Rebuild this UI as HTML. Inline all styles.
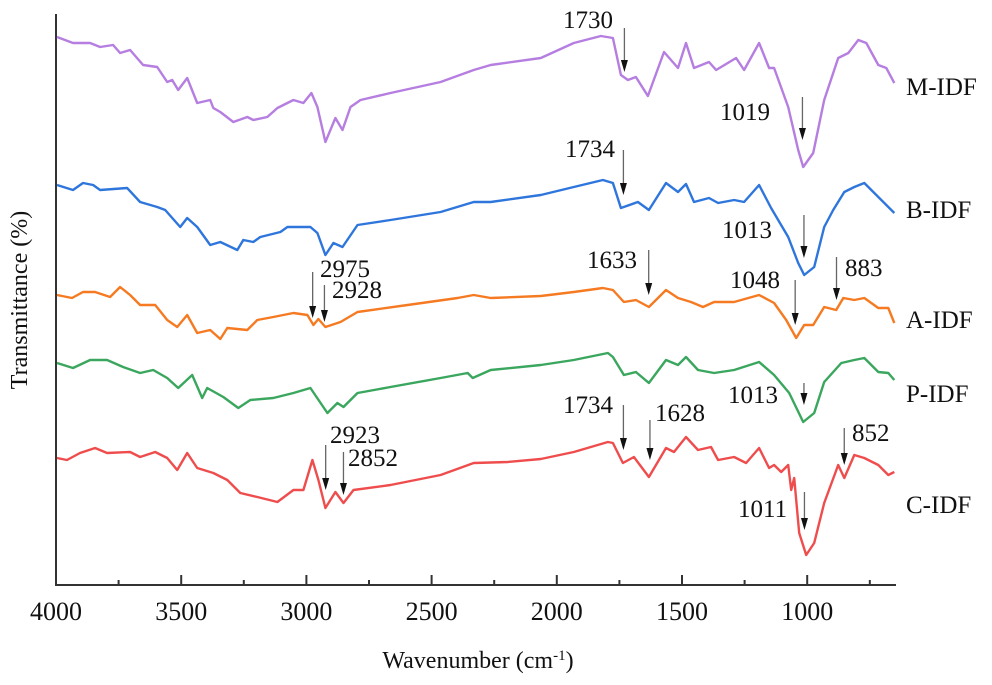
<!DOCTYPE html>
<html><head><meta charset="utf-8"><style>
html,body{margin:0;padding:0;background:#fff}
svg{display:block}
text{font-family:"Liberation Serif",serif;fill:#111}
</style></head><body>
<svg id="chart" width="992" height="685" viewBox="0 0 992 685" xmlns="http://www.w3.org/2000/svg">
<g id="axes"></g>
<g id="series"></g>
<g id="annots"></g>
<text x="478" y="668" font-size="24" text-anchor="middle">Wavenumber (cm<tspan baseline-shift="super" font-size="15">-1</tspan>)</text>
<text transform="translate(27,300) rotate(-90)" font-size="24" text-anchor="middle">Transmittance (%)</text>
</svg>
<script>
// x ticks
const xTicks = [4000,3500,3000,2500,2000,1500,1000];
const xMinorTicks = [3750,3250,2750,2250,1750,1250,750];
const seriesNames = ["M-IDF","B-IDF","A-IDF","P-IDF","C-IDF"];
const seriesColors = ["#b57ee0","#2f76dc","#f57a22","#3aa65e","#ef4d4d"];
// transmittance (arbitrary offset units) at wavenumbers
const mWn=[3996,3932,3864,3824,3772,3744,3704,3652,3596,3556,3536,3512,3476,3436,3384,3372,3344,3292,3236,3212,3156,3116,3052,3012,2980,2956,2924,2884,2856,2824,2784,2664,2464,2332,2264,2064,1932,1824,1776,1744,1716,1684,1636,1572,1516,1484,1452,1392,1364,1284,1252,1192,1152,1132,1076,1036,1016,976,932,876,836,796,764,716,684,652];
const mT=[563,557,557,553,555,547,550,535,533,518,520,510,522,497,500,492,488,478,483,480,483,492,500,497,507,493,458,482,470,493,500,507,518,530,535,542,557,564,562,525,520,523,504,548,532,557,532,538,530,542,530,557,532,532,493,450,433,447,500,542,547,560,557,535,532,517];
const bWn=[3996,3932,3892,3852,3824,3716,3664,3596,3564,3504,3476,3436,3384,3344,3276,3252,3212,3184,3104,3076,2984,2956,2924,2892,2856,2796,2664,2464,2332,2264,2064,1932,1816,1776,1744,1676,1632,1564,1516,1484,1452,1392,1356,1292,1252,1192,1144,1076,1036,1012,972,932,896,852,812,772,732,652];
const bT=[415,410,417,415,410,412,398,393,390,373,382,373,355,358,350,360,358,363,368,373,373,367,345,357,353,375,380,388,398,398,405,413,420,417,392,398,390,417,408,416,398,402,397,400,398,415,392,363,337,325,333,373,390,408,413,417,407,387];
const aWn=[3996,3936,3892,3844,3784,3744,3704,3664,3604,3556,3516,3476,3436,3384,3344,3316,3236,3196,3132,3052,2996,2972,2952,2924,2864,2796,2596,2396,2332,2264,2064,1932,1816,1776,1732,1684,1632,1564,1516,1464,1416,1372,1292,1192,1132,1084,1044,1012,976,932,884,856,812,772,716,676,652];
const aT=[305,302,308,308,303,313,305,295,295,280,273,285,267,270,261,272,270,280,283,287,285,275,281,273,278,288,295,302,305,302,304,308,312,310,298,300,293,310,302,298,293,298,298,305,297,280,262,275,275,293,290,302,300,302,292,292,277];
const pWn=[3996,3932,3864,3796,3732,3664,3612,3556,3512,3456,3416,3396,3332,3272,3224,3132,3052,2984,2916,2876,2852,2796,2664,2464,2356,2336,2264,2064,1932,1796,1776,1732,1684,1632,1564,1516,1484,1436,1372,1292,1192,1132,1072,1016,972,932,864,812,772,716,676,652];
const pT=[237,232,240,240,233,227,230,222,212,225,202,212,203,192,200,202,207,212,187,197,193,207,213,222,227,222,230,235,240,247,243,225,228,217,240,235,243,230,227,230,238,225,207,178,187,218,237,240,242,228,227,220];
const cWn=[3996,3956,3904,3844,3796,3704,3664,3604,3556,3516,3476,3436,3372,3316,3264,3196,3116,3052,3012,2976,2952,2924,2884,2852,2812,2664,2464,2332,2196,2064,1932,1796,1776,1736,1692,1632,1564,1532,1484,1436,1384,1356,1292,1244,1192,1152,1132,1104,1076,1064,1052,1032,1004,972,932,876,852,812,772,716,676,652];
const cT=[142,140,147,152,147,148,143,148,142,130,147,132,127,120,107,103,98,110,110,140,120,92,108,97,110,115,125,137,138,141,148,158,157,137,143,123,152,148,163,150,153,140,143,137,152,132,135,128,135,110,122,67,45,57,97,135,122,145,142,135,125,128];
const allWn=[mWn,bWn,aWn,pWn,cWn];
const allT=[mT,bT,aT,pT,cT];
// annotations: label, wavenumber of arrow
const annLabels=["1730","1019","1734","1013","1633","1048","883","2975","2928","1013","1734","1628","852","1011","2923","2852"];
const annWn=[1730,1019,1734,1013,1633,1048,883,2975,2928,1013,1734,1628,852,1011,2923,2852];

const X0=56, Y0=585;
function xs(w){return X0+(4000-w)*0.2504;}
function ys(t){return 600-t;}
const NS="http://www.w3.org/2000/svg";
function mk(tag,parent){const e=document.createElementNS(NS,tag);parent.appendChild(e);return e;}

const axes=document.getElementById('axes');
let l=mk('line',axes);


l.setAttribute('x1',X0);l.setAttribute('x2',896);l.setAttribute('y1',Y0);l.setAttribute('y2',Y0);
l.setAttribute('stroke','#333');l.setAttribute('stroke-width','2');
l=mk('line',axes);


l.setAttribute('x1',X0);l.setAttribute('x2',X0);l.setAttribute('y1',14);l.setAttribute('y2',Y0+1);
l.setAttribute('stroke','#333');l.setAttribute('stroke-width','2');
xTicks.forEach(w=>{
  const t=mk('line',axes);
  
  
  t.setAttribute('x1',xs(w));t.setAttribute('x2',xs(w));t.setAttribute('y1',Y0);t.setAttribute('y2',Y0-10);
  t.setAttribute('stroke','#333');t.setAttribute('stroke-width','2');
  const tx=mk('text',axes);
  
  
  tx.setAttribute('x',xs(w));tx.setAttribute('y',620);tx.setAttribute('font-size','26');tx.setAttribute('text-anchor','middle');
  tx.textContent=w;
});
xMinorTicks.forEach(w=>{
  const t=mk('line',axes);
  
  
  t.setAttribute('x1',xs(w));t.setAttribute('x2',xs(w));t.setAttribute('y1',Y0);t.setAttribute('y2',Y0-5);
  t.setAttribute('stroke','#333');t.setAttribute('stroke-width','2');
});

const sg=document.getElementById('series');
const labelY=[95,218,328,402,513];
seriesNames.forEach((n,i)=>{
  const p=mk('polyline',sg);
  
  
  p.setAttribute('points',allWn[i].map((w,j)=>xs(w).toFixed(1)+','+ys(allT[i][j]).toFixed(1)).join(' '));
  p.setAttribute('fill','none');p.setAttribute('stroke',seriesColors[i]);p.setAttribute('stroke-width','2.4');p.setAttribute('stroke-linejoin','round');
  const t=mk('text',sg);
  
  
  t.setAttribute('x',906);t.setAttribute('y',labelY[i]);t.setAttribute('font-size','25');
  t.textContent=n;
});

// annotation layout (text x, text baseline, arrow top, arrow bottom)
const annTx=[563,720,565,722,587,730,845,320,332,728,563,655,852,738,330,348];
const annTy=[28,120,157,238,268,288,276,277,298,403,413,421,441,517,443,466];
const annA1=[28,97,150,215,250,280,257,272,285,383,405,420,428,492,445,452];
const annA2=[72,140,195,258,295,325,300,318,322,405,450,460,465,530,490,495];
const an=document.getElementById('annots');
annLabels.forEach((lab,i)=>{
  const ax=xs(annWn[i]);
  const ln=mk('line',an);
  
  
  ln.setAttribute('x1',ax);ln.setAttribute('x2',ax);ln.setAttribute('y1',annA1[i]);ln.setAttribute('y2',annA2[i]-6);
  ln.setAttribute('stroke','#666');ln.setAttribute('stroke-width','1.3');
  const hd=mk('polygon',an);
  
  
  const b=annA2[i];
  hd.setAttribute('points',`${ax-3.5},${b-12} ${ax+3.5},${b-12} ${ax},${b}`);
  hd.setAttribute('fill','#111');
  const t=mk('text',an);
  
  
  t.setAttribute('x',annTx[i]);t.setAttribute('y',annTy[i]);t.setAttribute('font-size','25');
  t.textContent=lab;
});
</script>
</body></html>
